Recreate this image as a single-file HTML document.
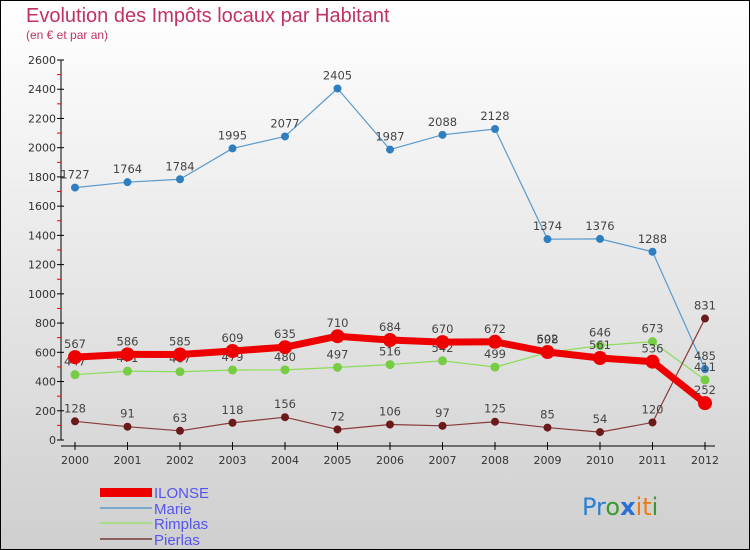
<!DOCTYPE html>
<html><head><meta charset="utf-8"><style>
body{margin:0;}
svg{display:block;font-family:"DejaVu Sans","Liberation Sans",sans-serif;}
</style></head><body>
<svg id="chart" width="750" height="550" xmlns="http://www.w3.org/2000/svg">
<defs><linearGradient id="bg" x1="0" y1="0" x2="0" y2="1"><stop offset="0" stop-color="#ffffff"/><stop offset="1" stop-color="#cfcfcf"/></linearGradient></defs>
<rect x="0.5" y="0.5" width="749" height="549" fill="url(#bg)" stroke="#000"/>
<text x="26" y="22" font-size="20" fill="#c0335f" font-family="'Liberation Sans',sans-serif">Evolution des Impôts locaux par Habitant</text>
<text x="26" y="39" font-size="12" fill="#c0335f" font-family="'Liberation Sans',sans-serif">(en € et par an)</text>
<g id="axes"></g><g id="series"></g>
<g font-family="'Liberation Sans',sans-serif">
<rect x="100" y="488" width="52" height="9" fill="#ee0000"/>
<text x="154" y="498" font-size="15" fill="#5555ee">ILONSE</text>
<rect x="100" y="507" width="52" height="2" fill="#7aa8cc"/>
<text x="154" y="514" font-size="15" fill="#5555ee">Marie</text>
<rect x="100" y="522" width="52" height="2" fill="#a8dc88"/>
<text x="154" y="529" font-size="15" fill="#5555ee">Rimplas</text>
<rect x="100" y="538" width="52" height="2" fill="#8a6060"/>
<text x="154" y="545" font-size="15" fill="#5555ee">Pierlas</text>
</g>
<text x="582" y="515" font-size="24" font-family="'DejaVu Sans',sans-serif"><tspan fill="#2a7fd4">Pr</tspan><tspan fill="#3a9a30">o</tspan><tspan fill="#2a6fd4" font-weight="bold">x</tspan><tspan fill="#f07a10">it</tspan><tspan fill="#3a9a30">i</tspan></text>
</svg>
<script>
const years=[2000,2001,2002,2003,2004,2005,2006,2007,2008,2009,2010,2011,2012];
const yTicks=[0,200,400,600,800,1000,1200,1400,1600,1800,2000,2200,2400,2600];
const ilonse=[567,586,585,609,635,710,684,670,672,602,561,536,252];
const marie=[1727,1764,1784,1995,2077,2405,1987,2088,2128,1374,1376,1288,485];
const rimplas=[447,471,467,479,480,497,516,542,499,598,646,673,411];
const pierlas=[128,91,63,118,156,72,106,97,125,85,54,120,831];
const NS="http://www.w3.org/2000/svg";
const X=i=>75+i*(630/(years.length-1));
const Y=v=>440-v*380/2600;
function mk(t,a,p){const e=document.createElementNS(NS,t);for(const k in a)e.setAttribute(k,a[k]);p.appendChild(e);return e;}
const ax=document.getElementById('axes');
let l=mk('line',{x1:61,y1:Y(2600),x2:61,y2:440,stroke:'#000'},ax);


l=mk('line',{x1:61,y1:446,x2:715,y2:446,stroke:'#000'},ax);


yTicks.forEach(v=>{mk('line',{x1:57,x2:64,y1:Y(v),y2:Y(v),stroke:'#000'},ax);
 if(v<2600)mk('line',{x1:57,x2:61,y1:Y(v+100),y2:Y(v+100),stroke:'#e00'},ax);
 const t=mk('text',{x:56,y:Y(v)+4,'font-size':11,'text-anchor':'end',fill:'#333'},ax);t.textContent=v;
 
 });
years.forEach((y,i)=>{mk('line',{x1:X(i),x2:X(i),y1:442,y2:450,stroke:'#000'},ax);
 const t=mk('text',{x:X(i),y:464,'font-size':11,'text-anchor':'middle',fill:'#333'},ax);t.textContent=y;
 
 });
const sg=document.getElementById('series');
function series(name,data,color,w,r,dot){
 const g=mk('g',{},sg);
 
 
 mk('polyline',{points:data.map((v,i)=>X(i)+','+Y(v)).join(' '),fill:'none',stroke:color,'stroke-width':w,'stroke-linejoin':'round'},g);
 data.forEach((v,i)=>{const c=mk('circle',{cx:X(i),cy:Y(v),r:r,fill:dot},g);
  
  
  const t=mk('text',{x:X(i),y:Y(v)-9,'font-size':11.5,'text-anchor':'middle',fill:'#444'},g);t.textContent=v;
  
  });
}
series('marie',marie,'#5a9acc',1.2,4,'#2f7fc0');
series('rimplas',rimplas,'#88dd55',1.2,4.5,'#77cc44');
series('pierlas',pierlas,'#8a3a3a',1.2,4,'#6a1a1a');
series('ilonse',ilonse,'#ee0000',7,7,'#ee0000');
</script>
</body></html>
